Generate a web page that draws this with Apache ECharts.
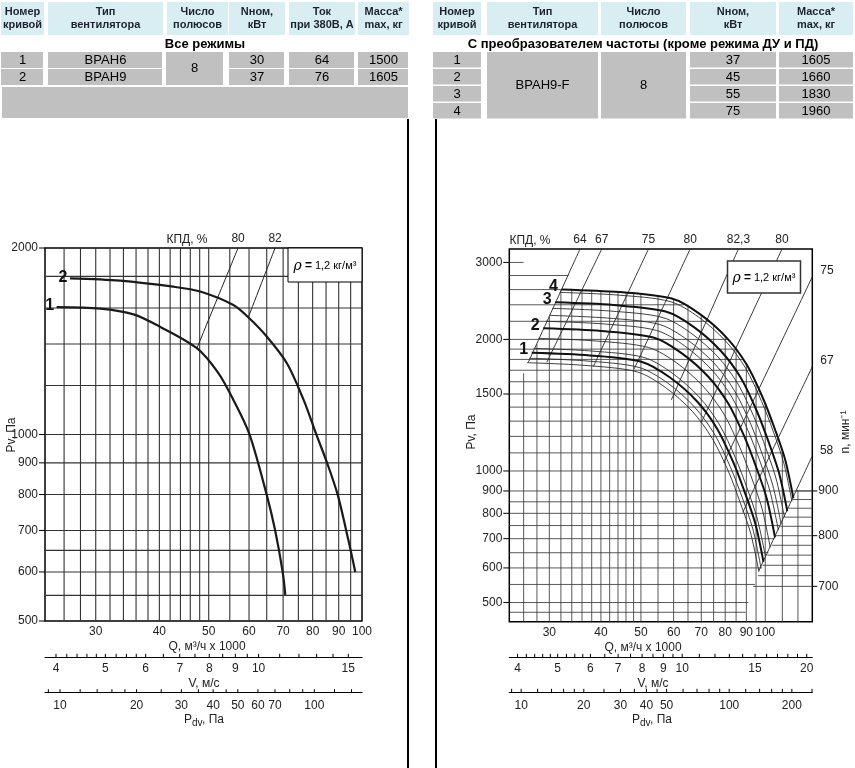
<!DOCTYPE html>
<html><head><meta charset="utf-8">
<script src="https://cdn.jsdelivr.net/npm/echarts@6/dist/echarts.min.js"></script>
<style>html,body{margin:0;padding:0;background:#fff}#c{width:855px;height:768px}</style>
</head><body><div id="c"></div>
<script>
// ---------------- DATA ----------------
// Left table
const tableLHeaders = ['Номер\nкривой','Тип\nвентилятора','Число\nполюсов','Nном,\nкВт','Ток\nпри 380В, А','Масса*\nmax, кг'];
const tableLTitle = 'Все режимы';
const tableLCurve = ['1','2'];
const tableLType = ['ВРАН6','ВРАН9'];
const tableLPoles = '8';
const tableLPower = ['30','37'];
const tableLCurrent = ['64','76'];
const tableLMass = ['1500','1605'];
// Right table
const tableRHeaders = ['Номер\nкривой','Тип\nвентилятора','Число\nполюсов','Nном,\nкВт','Масса*\nmax, кг'];
const tableRTitle = 'С преобразователем частоты (кроме режима ДУ и ПД)';
const tableRCurve = ['1','2','3','4'];
const tableRType = 'ВРАН9-F';
const tableRPoles = '8';
const tableRPower = ['37','45','55','75'];
const tableRMass = ['1605','1660','1830','1960'];

// Left chart (Q, Pv)
const leftCurve1 = [[25.14,1606],[30.6,1597],[35.6,1563],[40.1,1493],[47.4,1378],[52.2,1257],[55.9,1137],[60.1,1001],[65.0,799],[67.5,701],[69.9,598],[70.7,551]];
const leftCurve2 = [[26.7,1787],[33.5,1772],[42.6,1732],[48.1,1701],[55.9,1618],[59.8,1546],[65.0,1439],[71.2,1303],[76.8,1137],[81.3,1001],[85.4,900],[89.6,799],[94.0,676],[97.0,600]];
const leftCurveNames = ['1','2'];
const leftEff = [[[57.1,2000],[47.4,1378]],[[67.5,2000],[59.8,1546]]];
const leftEffLabels = ['80','82'];
const leftVGrid = [26,28,30,32,34,36,38,40,42,44,46,48,50,55,60,65,70,75,80,85,90,95];
const leftHGrid = [550,600,650,700,800,900,1000,1200,1400,1600,1800];
const leftYLabels = [500,600,700,800,900,1000,2000];
const leftQLabels = [30,40,50,60,70,80,90,100];
const leftVLabels = [4,5,6,7,8,9,10,15];
const leftPdvLabels = [10,20,30,40,50,60,70,100];
const vTicks = [4,4.2,4.4,4.6,4.8,5,5.25,5.5,5.75,6,6.5,7,7.5,8,8.5,9,9.5,10,11,12,13,14,15,16,17,18,19,20];
const pdvTicks = [9,10,12,14,16,18,20,25,30,35,40,45,50,60,70,80,90,100,120,140,160,180,200,250];

// Right chart (Q, Pv)
const rCurve4 = [[32.1,2603],[44.4,2566],[59.4,2480],[69.5,2285],[80.8,2014],[90.3,1747],[98.8,1465],[105.7,1241],[111.8,1059],[117.0,866]];
const rCurve4b = [[31.8,2562],[44.0,2526],[58.9,2441],[69.0,2249],[80.2,1982],[89.6,1720],[98.0,1442],[104.9,1222],[110.9,1042],[116.1,852]];
const rCurve3 = [[31.0,2431],[42.9,2397],[57.4,2316],[67.2,2134],[78.1,1881],[87.3,1632],[95.5,1368],[102.1,1159],[108.0,989],[113.1,809]];
const rThinA = [[30.5,2355],[42.2,2322],[56.5,2244],[66.1,2067],[76.9,1822],[85.9,1581],[94.0,1326],[100.5,1123],[106.3,958],[111.3,784]];
const rThinB = [[30.0,2270],[41.5,2238],[55.5,2163],[64.9,1993],[75.5,1757],[84.3,1524],[92.3,1278],[98.7,1082],[104.4,924],[109.3,755]];
const rThinC = [[29.5,2200],[40.8,2169],[54.6,2096],[63.9,1931],[74.3,1702],[83.0,1476],[90.8,1238],[97.2,1049],[102.8,895],[107.6,732]];
const rCurve2 = [[29.0,2120],[40.1,2090],[53.6,2020],[62.7,1861],[72.9,1641],[81.5,1423],[89.2,1193],[95.4,1011],[100.9,863],[105.6,705]];
const rThinD = [[28.2,2011],[39.0,1983],[52.2,1916],[61.1,1766],[71.0,1556],[79.4,1350],[86.8,1132],[92.9,959],[98.3,818],[102.8,669]];
const rThinE = [[27.5,1908],[38.0,1881],[50.9,1818],[59.5,1675],[69.2,1476],[77.3,1281],[84.6,1074],[90.5,910],[95.7,776],[100.2,635]];
const rCurve1 = [[27.2,1864],[37.6,1838],[50.3,1776],[58.8,1636],[68.4,1442],[76.4,1251],[83.6,1049],[89.4,889],[94.6,758],[99.0,620]];
const rThinF = [[26.8,1811],[37.0,1785],[49.5,1725],[58.0,1590],[67.4,1401],[75.3,1215],[82.4,1019],[88.2,863],[93.3,737],[97.6,602]];
const rThinG = [[26.5,1769],[36.6,1744],[49.0,1685],[57.3,1553],[66.6,1369],[74.4,1187],[81.5,996],[87.1,843],[92.2,720],[96.5,589]];
const rThickCurves = [rCurve4, rCurve3, rCurve2, rCurve1];
const rThickNames = ['4','3','2','1'];
const rThinCurves = [rCurve4b, rThinA, rThinB, rThinC, rThinD, rThinE, rThinF, rThinG];
const rEffTop = [[[35.6,3220],[26.68,1772]],[[40.19,3220],[29.57,1772]],[[52.15,3220],[38.35,1734]],[[65.8,3220],[48.13,1711]],[[86.1,3220],[59.2,1453]],[[109.8,3220],[69.9,1287]]];
const rEffTopLabels = ['64','67','75','80','82,3','80'];
const rEffSide = [[[130,2781],[79.3,1043]],[[130,1732],[88.2,804]],[[129.7,1078],[96.3,588.6]]];
const rEffSideLabels = ['75','67','58'];
// vertical grid: [Q, top Pv]
const rVGrid = [[26,1673],[28,1952],[30,2258],[32,2590],[34,2598],[36,2592],[38,2586],[40,2580],[42,2574],[44,2567],[46,2560],[48,2550],[50,2540],[55,2508],[60,2475],[65,2400],[70,2275],[75,2160],[80,2030],[85,1890],[90,1750],[95,1600],[100,1420],[110,1110],[120,905]];
// horizontal grid: [Pv, right Q]
const rHGrid = [[3000,26],[2800,33.4],[2600,32.5],[2400,63.5],[2200,73],[2000,81.3],[1900,84.9],[1800,88.4],[1700,91.7],[1600,94.7],[1500,97.7],[1400,100.8],[1300,103.9],[1200,107.1],[1100,110.4],[1000,113.4],[900,130],[850,115],[800,111.8],[750,108.7],[700,105.3],[650,101.8],[600,98.3],[550,94.4],[500,91],[475,89.6]];
// rpm lines: [n, start Q]
const rRpmLines = [[900,118.7],[880,116.3],[860,113.8],[840,111.3],[820,108.8],[800,106.2],[780,103.7],[760,101.1],[740,98.5],[720,96.0],[700,93.5]];
const rRpmLabels = [700,800,900];
const rightYLabels = [500,600,700,800,900,1000,1500,2000,3000];
const rightQLabels = [30,40,50,60,70,80,90,100];
const rightVLabels = [4,5,6,7,8,9,10,15,20];
const rightPdvLabels = [10,20,30,40,50,100,200];

// ---------------- RENDER ----------------
const FONT = '12px "Liberation Sans Narrow", "Liberation Sans", Arial, sans-serif';
const LQ = [23.85,100], LP = [500,2000], LV = [3.806,15.96], LPD = [8.73,153.9];
const RQ = [24,130], RP = [452,3220], RN = [637.8,1702.3], RV = [3.82,20.63], RPD = [8.77,250.8];

const chart = echarts.init(document.getElementById('c'), null, {renderer:'canvas', width:855, height:768});

function segSeries(xi, yi, data, color, width, z) {
  return {type:'custom', xAxisIndex:xi, yAxisIndex:yi, silent:true, clip:false, z:z||1, data,
    renderItem:(p, api) => {
      const a = api.coord([api.value(0), api.value(1)]);
      const b = api.coord([api.value(2), api.value(3)]);
      return {type:'line', shape:{x1:a[0],y1:a[1],x2:b[0],y2:b[1]}, style:{stroke:color, lineWidth:width}};
    }};
}
function labelSeries(xi, yi, pts, texts, o) {
  return {type:'custom', xAxisIndex:xi, yAxisIndex:yi, silent:true, clip:false, z:6, data:pts,
    renderItem:(p, api) => {
      const c = api.coord([api.value(0), api.value(1)]);
      const ch = [];
      if (o.tick) ch.push({type:'line', shape:{x1:c[0]+o.tick[0],y1:c[1]+o.tick[1],x2:c[0]+o.tick[2],y2:c[1]+o.tick[3]}, style:{stroke:'#000', lineWidth:1}});
      if (texts) ch.push({type:'text', x:c[0]+(o.dx||0), y:c[1]+(o.dy||0), style:{text:String(texts[p.dataIndex]), fill:o.color||'#222', font:o.font||FONT, align:o.align||'center', verticalAlign:o.va||'middle'}});
      return {type:'group', children:ch};
    }};
}
function lineSeries(xi, yi, data, color, width, z) {
  return {type:'line', xAxisIndex:xi, yAxisIndex:yi, data, smooth:0.3, symbol:'none', silent:true, z:z||3,
    lineStyle:{color, width}, animation:false};
}

const grids = [
  {left:45, top:248, width:317, height:373},
  {left:45, top:656.3, width:317, height:1},
  {left:45, top:691.7, width:317, height:1},
  {left:509.3, top:249, width:303, height:372.7},
  {left:509.3, top:656.3, width:303, height:1},
  {left:509.3, top:691.3, width:303, height:1}
].map((g,i) => Object.assign({outerBoundsMode:'none', containLabel:false,
   show:(i===0||i===3), borderColor:'#000', borderWidth:1.5, backgroundColor:'transparent'}, g));

function logX(gi, ext, showLine) {
  return {type:'log', logBase:10, gridIndex:gi, min:ext[0], max:ext[1], show:!!showLine, position:'bottom',
    axisLine:{show:!!showLine, lineStyle:{color:'#000', width:1.2}}, axisTick:{show:false}, axisLabel:{show:false}, splitLine:{show:false}};
}
function logY(gi, ext, pos) {
  return {type:'log', logBase:10, gridIndex:gi, min:ext[0], max:ext[1], show:false, position:pos||'left', splitLine:{show:false}};
}
function dummyY(gi) { return {type:'value', gridIndex:gi, min:0, max:1, show:false, splitLine:{show:false}}; }

const xAxis = [logX(0,LQ,false), logX(1,LV,true), logX(2,LPD,true), logX(3,RQ,false), logX(4,RV,true), logX(5,RPD,true)];
const yAxis = [logY(0,LP), dummyY(1), dummyY(2), logY(3,RP), dummyY(4), dummyY(5), logY(3,RN,'right')];

const series = [];
// Left grid
series.push(segSeries(0,0, leftVGrid.map(q=>[q,LP[0],q,LP[1]]), '#333', 1.1));
series.push(segSeries(0,0, leftHGrid.map(p=>[LQ[0],p,LQ[1],p]), '#333', 1.1));
leftEff.forEach(e => series.push(lineSeries(0,0,e,'#222',1,2)));
series.push(lineSeries(0,0,leftCurve1,'#1a1a1a',2.2));
series.push(lineSeries(0,0,leftCurve2,'#1a1a1a',2.2));
series.push(labelSeries(0,0,[leftCurve1[0],leftCurve2[0]],leftCurveNames,{dx:-7,dy:-1,font:'bold 16px "Liberation Sans", Arial, sans-serif',color:'#111'}));
series.push(labelSeries(0,0,leftEff.map(e=>e[0]),leftEffLabels,{dy:-9}));
series.push(labelSeries(0,0,leftYLabels.map(p=>[LQ[0],p]),leftYLabels,{tick:[-6,0,0,0],dx:-7,align:'right'}));
series.push(labelSeries(0,0,leftQLabels.map(q=>[q,LP[0]]),leftQLabels,{dy:11}));
series.push(labelSeries(1,1,vTicks.filter(v=>v>=LV[0]&&v<=LV[1]).map(v=>[v,0]),null,{tick:[0,0,0,-3.5]}));
series.push(labelSeries(1,1,leftVLabels.map(v=>[v,0]),leftVLabels,{dy:11}));
series.push(labelSeries(2,2,pdvTicks.filter(v=>v>=LPD[0]&&v<=LPD[1]).map(v=>[v,0]),null,{tick:[0,0,0,-3.5]}));
series.push(labelSeries(2,2,leftPdvLabels.map(v=>[v,0]),leftPdvLabels,{dy:13}));

// Right grid
series.push(segSeries(3,3, rVGrid.map(d=>[d[0],RP[0],d[0],d[1]]), '#3a3a3a', 0.85));
series.push(segSeries(3,3, rHGrid.map(d=>[RQ[0],d[0],d[1],d[0]]), '#3a3a3a', 0.85));
series.push(segSeries(3,6, rRpmLines.map(d=>[d[1],d[0],RQ[1],d[0]]), '#3a3a3a', 0.85));
rEffTop.concat(rEffSide).forEach(e => series.push(lineSeries(3,3,e,'#222',0.9,2)));
rThinCurves.forEach(c => series.push(lineSeries(3,3,c,'#2a2a2a',0.9)));
rThickCurves.forEach(c => series.push(lineSeries(3,3,c,'#111',2,4)));
series.push(labelSeries(3,3,rThickCurves.map(c=>c[0]),rThickNames,{dx:-8,dy:-3,font:'bold 16px "Liberation Sans", Arial, sans-serif',color:'#111'}));
series.push(labelSeries(3,3,rEffTop.map(e=>e[0]),rEffTopLabels,{dy:-9}));
series.push(labelSeries(3,3,rEffSide.map(e=>e[0]),rEffSideLabels,{dx:8,dy:-6,align:'left'}));
series.push(labelSeries(3,3,rightYLabels.map(p=>[RQ[0],p]),rightYLabels,{tick:[-6,0,0,0],dx:-7,align:'right'}));
series.push(labelSeries(3,6,rRpmLabels.map(n=>[RQ[1],n]),rRpmLabels,{tick:[0,0,5,0],dx:6,align:'left'}));
series.push(labelSeries(3,3,rightQLabels.map(q=>[q,RP[0]]),rightQLabels,{dy:11}));
series.push(labelSeries(4,4,vTicks.filter(v=>v>=RV[0]&&v<=RV[1]).map(v=>[v,0]),null,{tick:[0,0,0,-3.5]}));
series.push(labelSeries(4,4,rightVLabels.map(v=>[v,0]),rightVLabels,{dy:11}));
series.push(labelSeries(5,5,pdvTicks.filter(v=>v>=RPD[0]&&v<=RPD[1]).map(v=>[v,0]),null,{tick:[0,0,0,-3.5]}));
series.push(labelSeries(5,5,rightPdvLabels.map(v=>[v,0]),rightPdvLabels,{dy:13}));

// ---------------- GRAPHIC (tables, titles) ----------------
const G = [];
const HFONT = 'bold 11px "Liberation Sans", Arial, sans-serif';
const DFONT = '13px "Liberation Sans", Arial, sans-serif';
const TFONT = 'bold 13px "Liberation Sans", Arial, sans-serif';
const HEAD_BG = '#d9eef3', CELL_BG = '#c0c0c0';
function gRect(x,y,w,h,fill,stroke,lw){G.push({type:'rect', shape:{x,y,width:w,height:h}, style:{fill, stroke:stroke||null, lineWidth:lw||0}, z:100, silent:true});}
function gLine(x1,y1,x2,y2,w){G.push({type:'line', shape:{x1,y1,x2,y2}, style:{stroke:'#000', lineWidth:w}, z:100, silent:true});}
function gText(x,y,t,font,o){o=o||{};G.push({type:'text', x, y, rotation:o.rot||0, style:{text:t, font, fill:o.fill||'#000', align:o.align||'center', verticalAlign:o.va||'middle', lineHeight:o.lh||14, rich:o.rich}, z:101, silent:true});}

// left table
const colsL = [[1,44],[48,163],[167,228],[229,285],[289,355],[358,409]];
colsL.forEach((c,i)=>{gRect(c[0],2,c[1]-c[0],33,HEAD_BG); gText((c[0]+c[1])/2,18.5,tableLHeaders[i],HFONT,{fill:'#1c2330',lh:13});});
gText(205,44,tableLTitle,TFONT);
[52,69].forEach((y,r)=>{
  const vals = [tableLCurve[r], tableLType[r], null, tableLPower[r], tableLCurrent[r], tableLMass[r]];
  colsL.forEach((c,i)=>{ if(i===2) return; gRect(c[0],y,c[1]-c[0]-1,16,CELL_BG); gText((c[0]+c[1])/2,y+8.5,vals[i],DFONT); });
});
gRect(166,52,57,33,CELL_BG); gText(194.5,68.5,tableLPoles,DFONT);
gRect(2,87,406,31,CELL_BG);

// right table
const colsR = [[433,481],[487,598],[601,686],[690,776],[779,853]];
colsR.forEach((c,i)=>{gRect(c[0],2,c[1]-c[0],33,HEAD_BG); gText((c[0]+c[1])/2,18.5,tableRHeaders[i],HFONT,{fill:'#1c2330',lh:13});});
gText(643,44,tableRTitle,TFONT);
[52,69,86,103].forEach((y,r)=>{
  gRect(colsR[0][0],y,colsR[0][1]-colsR[0][0],15.5,CELL_BG); gText((colsR[0][0]+colsR[0][1])/2,y+8,tableRCurve[r],DFONT);
  gRect(colsR[3][0],y,colsR[3][1]-colsR[3][0],15.5,CELL_BG); gText((colsR[3][0]+colsR[3][1])/2,y+8,tableRPower[r],DFONT);
  gRect(colsR[4][0],y,colsR[4][1]-colsR[4][0],15.5,CELL_BG); gText((colsR[4][0]+colsR[4][1])/2,y+8,tableRMass[r],DFONT);
});
gRect(487,52,111,66.5,CELL_BG); gText(542.5,85,tableRType,DFONT);
gRect(601,52,85,66.5,CELL_BG); gText(643.5,85,tableRPoles,DFONT);

// dividers
gLine(408,119,408,768,2); gLine(436,119,436,768,2);

// chart titles
const AF = FONT;
gText(187,240,'КПД, %',AF,{fill:'#222'});
gText(530,241,'КПД, %',AF,{fill:'#222'});
gText(12,435,'Pv, Па',AF,{rot:Math.PI/2,fill:'#222'});
gText(472,432,'Pv, Па',AF,{rot:Math.PI/2,fill:'#222'});
gText(846,432,'n, мин⁻¹',AF,{rot:Math.PI/2,fill:'#222'});
gText(207,647,'Q, м³/ч x 1000',AF,{fill:'#222'});
gText(643,648,'Q, м³/ч x 1000',AF,{fill:'#222'});
gText(204,684,'V, м/с',AF,{fill:'#222'});
gText(653,684,'V, м/с',AF,{fill:'#222'});
function pdvTitle(cx,y){
  gText(cx-21,y,'P',AF,{align:'left',fill:'#222'});
  gText(cx-13,y+3,'dv','10px "Liberation Sans Narrow", "Liberation Sans", Arial, sans-serif',{align:'left',fill:'#222'});
  gText(cx-3,y,', Па',AF,{align:'left',fill:'#222'});
}
pdvTitle(205,720); pdvTitle(653,720);
// rho boxes
gRect(288,248,74,34,'#fff','#000',1);
gText(325,266,'{i|ρ} {b|=} 1,2 кг/м³','11px "Liberation Sans", Arial, sans-serif',{rich:{i:{font:'italic 14px "DejaVu Serif", serif'},b:{font:'bold 12px "Liberation Sans", Arial, sans-serif'}}});
gRect(727.5,261,73,32,'#fff','#333',1.5);
gText(764,278,'{i|ρ} {b|=} 1,2 кг/м³','11px "Liberation Sans", Arial, sans-serif',{rich:{i:{font:'italic 14px "DejaVu Serif", serif'},b:{font:'bold 12px "Liberation Sans", Arial, sans-serif'}}});

chart.setOption({animation:false, backgroundColor:'#fff', grid:grids, xAxis, yAxis, series, graphic:{elements:G}});
</script></body></html>
